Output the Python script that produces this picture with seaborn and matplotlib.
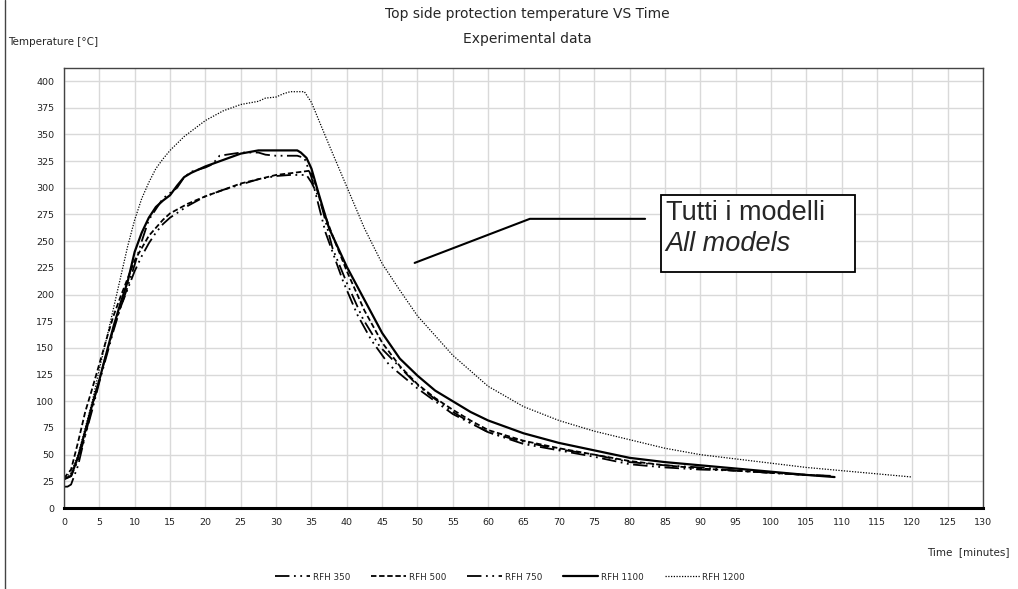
import numpy as np
import matplotlib
matplotlib.use('Agg')
import matplotlib.pyplot as plt
from matplotlib import font_manager
from matplotlib.patches import Rectangle
from matplotlib.lines import Line2D
import seaborn as sns

# data (time in minutes, temperature in C)
t_350 = [0, 0.5, 1, 2, 3, 4, 5, 6, 7, 8, 9, 10, 11, 12, 13, 14, 15, 17.5, 20, 22.5, 25, 27.5, 30, 32,
         34.3, 35, 36.2, 38, 40, 42.3, 44.7, 47.5, 50, 52.5, 55, 57.5, 60, 65, 70, 75, 80, 85, 90, 95,
         100, 105, 108]
y_350 = [20, 20, 22, 40, 68, 95, 120, 145, 168, 188, 205, 222, 236, 248, 258, 266, 272, 283, 292, 298,
         303, 308, 311, 312, 312, 305, 289, 243, 211, 177, 151, 132, 115, 102, 90, 80, 71, 60, 54, 48,
         41, 38, 36, 35, 33, 31, 30]

t_500 = [0, 1, 2, 3, 4, 5, 6, 7, 8, 9, 10, 12, 14, 15, 17.5, 20, 22.5, 25, 27.5, 30, 32.5, 34.8, 35.5,
         36.5, 38, 40, 42.5, 45, 47.5, 50, 52.5, 55, 57.5, 60, 65, 70, 75, 80, 85, 90, 95, 100, 105, 108]
y_500 = [28, 36, 62, 90, 112, 135, 158, 180, 198, 215, 232, 255, 270, 276, 285, 292, 298, 304, 308, 312,
         314, 316, 305, 282, 255, 222, 185, 155, 133, 116, 103, 92, 82, 73, 63, 56, 50, 44, 40, 37, 35,
         33, 31, 30]

t_750 = [0, 1, 2, 3, 4, 5, 6, 7, 8, 9, 10, 11, 12, 13, 14, 15, 16, 17, 18, 20, 21, 22, 25, 27.5, 28.5,
         30, 33, 34, 35, 37, 39.5, 41.5, 43.5, 46, 50, 55, 60, 65, 70, 75, 80, 85, 90, 95, 100, 105, 109]
y_750 = [27, 30, 45, 68, 92, 118, 142, 166, 188, 207, 228, 250, 270, 280, 290, 295, 300, 310, 315, 319,
         322, 330, 333, 333, 331, 330, 330, 328, 310, 258, 212, 181, 157, 134, 112, 88, 71, 62, 55, 50,
         43, 40, 38, 35, 33, 31, 30]

t_1100 = [0, 1, 2, 3, 4, 5, 6, 7, 8, 9, 10, 11, 12, 13, 14, 15, 16, 17, 18, 20, 22.5, 25, 27.5, 30, 33,
          33.5, 34.3, 35, 36, 37.5, 40, 42.5, 45, 47.5, 50, 52.5, 55, 57.5, 60, 65, 70, 75, 80, 85, 90,
          95, 100, 105, 109]
y_1100 = [27, 30, 48, 72, 97, 120, 145, 170, 192, 212, 240, 258, 272, 282, 288, 293, 302, 310, 314, 320,
          326, 332, 335, 335, 335, 333, 328, 318, 295, 262, 226, 195, 164, 140, 124, 110, 100, 90, 82,
          70, 61, 54, 47, 43, 40, 37, 34, 31, 29]

t_1200 = [0, 1, 2, 3, 4, 5, 6, 7, 8, 9, 10, 11, 12, 13, 14, 15, 17, 20, 22.5, 25, 27.5, 28.5, 30, 31, 32,
          34, 35, 37.5, 40, 42.5, 45, 47.5, 50, 55, 60, 65, 70, 75, 80, 85, 90, 95, 100, 105, 110, 115,
          120]
y_1200 = [27, 33, 50, 75, 100, 130, 158, 187, 216, 245, 270, 290, 305, 318, 327, 335, 348, 363, 372, 378,
          381, 384, 385, 388, 390, 390, 380, 340, 301, 262, 229, 204, 180, 143, 114, 95, 82, 72, 64, 56,
          50, 46, 42, 38, 35, 32, 29]

series_names = ['RFH 350', 'RFH 500', 'RFH 750', 'RFH 1100', 'RFH 1200']
series_t = [t_350, t_500, t_750, t_1100, t_1200]
series_y = [y_350, y_500, y_750, y_1100, y_1200]

x_ticks = list(range(0, 131, 5))
y_ticks = list(range(0, 401, 25))

# line styles per series
styles = {
    'RFH 350': dict(linestyle=(0, (8, 2.5, 1, 2.5, 1, 2.5)), linewidth=1.3),
    'RFH 500': dict(linestyle=(0, (3, 1.5)), linewidth=1.3),
    'RFH 750': dict(linestyle=(0, (8, 2.5, 1, 2.5, 1, 2.5)), linewidth=1.3),
    'RFH 1100': dict(linestyle='-', linewidth=1.6),
    'RFH 1200': dict(linestyle=(0, (1, 1.2)), linewidth=0.9),
}

sns.set_style('white')
installed = {f.name for f in font_manager.fontManager.ttflist}
narrow = 'DejaVu Sans'
for cand in ['Liberation Sans Narrow', 'DejaVu Sans Condensed']:
    if cand in installed:
        narrow = cand
        break
plt.rcParams['font.family'] = [narrow, 'DejaVu Sans']

fig = plt.figure(figsize=(10.18, 5.89), dpi=100)
ax = fig.add_axes([64 / 1018, 1 - 508 / 589, (983 - 64) / 1018, (508 - 68) / 589])

for name, tx, ty in zip(series_names, series_t, series_y):
    sns.lineplot(x=tx, y=ty, ax=ax, color='black', label=name, sort=False, **styles[name])

ax.set_xlim(0, 130)
ax.set_ylim(0, 412.2)
ax.set_xticks(x_ticks)
ax.set_yticks(y_ticks)
ax.tick_params(axis='both', labelsize=6.8, length=0, pad=7, colors='#222222')
ax.grid(True, color='#d9d9d9', linewidth=1)
ax.set_axisbelow(True)
for side in ['left', 'top', 'right']:
    ax.spines[side].set_color('#444444')
    ax.spines[side].set_linewidth(1)
ax.spines['bottom'].set_color('black')
ax.spines['bottom'].set_linewidth(2.2)
ax.set_xlabel('')
ax.set_ylabel('')

handles, labels = ax.get_legend_handles_labels()
ax.get_legend().remove()
fig.legend(handles, labels, loc='center', bbox_to_anchor=(510 / 1018, 1 - 577 / 589), ncol=5,
           frameon=False, fontsize=6.3, handlelength=4, columnspacing=2.4, handletextpad=0.3)

# annotation
ax.plot([49.6, 65.9, 82.2], [229.6, 270.9, 270.9], color='black', linewidth=1.5)
ax.add_patch(Rectangle((84.4, 221), 27.5, 72, fill=True, facecolor='white', edgecolor='black',
                       linewidth=1.3, zorder=5))
ax.text(85.1, 276.5, 'Tutti i modelli', fontsize=19.5, family=['Liberation Sans', 'DejaVu Sans'],
        va='center', ha='left', zorder=6)
ax.text(85.1, 247, 'All models', fontsize=19.5, style='italic', family=['Liberation Sans', 'DejaVu Sans'],
        va='center', ha='left', zorder=6)

fig.text(527 / 1018, 1 - 14 / 589, 'Top side protection temperature VS Time', ha='center', va='center',
         fontsize=10)
fig.text(527 / 1018, 1 - 39 / 589, 'Experimental data', ha='center', va='center', fontsize=10)
fig.text(8 / 1018, 1 - 42 / 589, 'Temperature [°C]', ha='left', va='center', fontsize=7.5)
fig.text(1010 / 1018, 1 - 552 / 589, 'Time  [minutes]', ha='right', va='center', fontsize=7.5)

fig.add_artist(Line2D([5 / 1018, 5 / 1018], [0, 1], color='#444444', linewidth=1))

plt.savefig('out.png', dpi=100)
plt.close()
